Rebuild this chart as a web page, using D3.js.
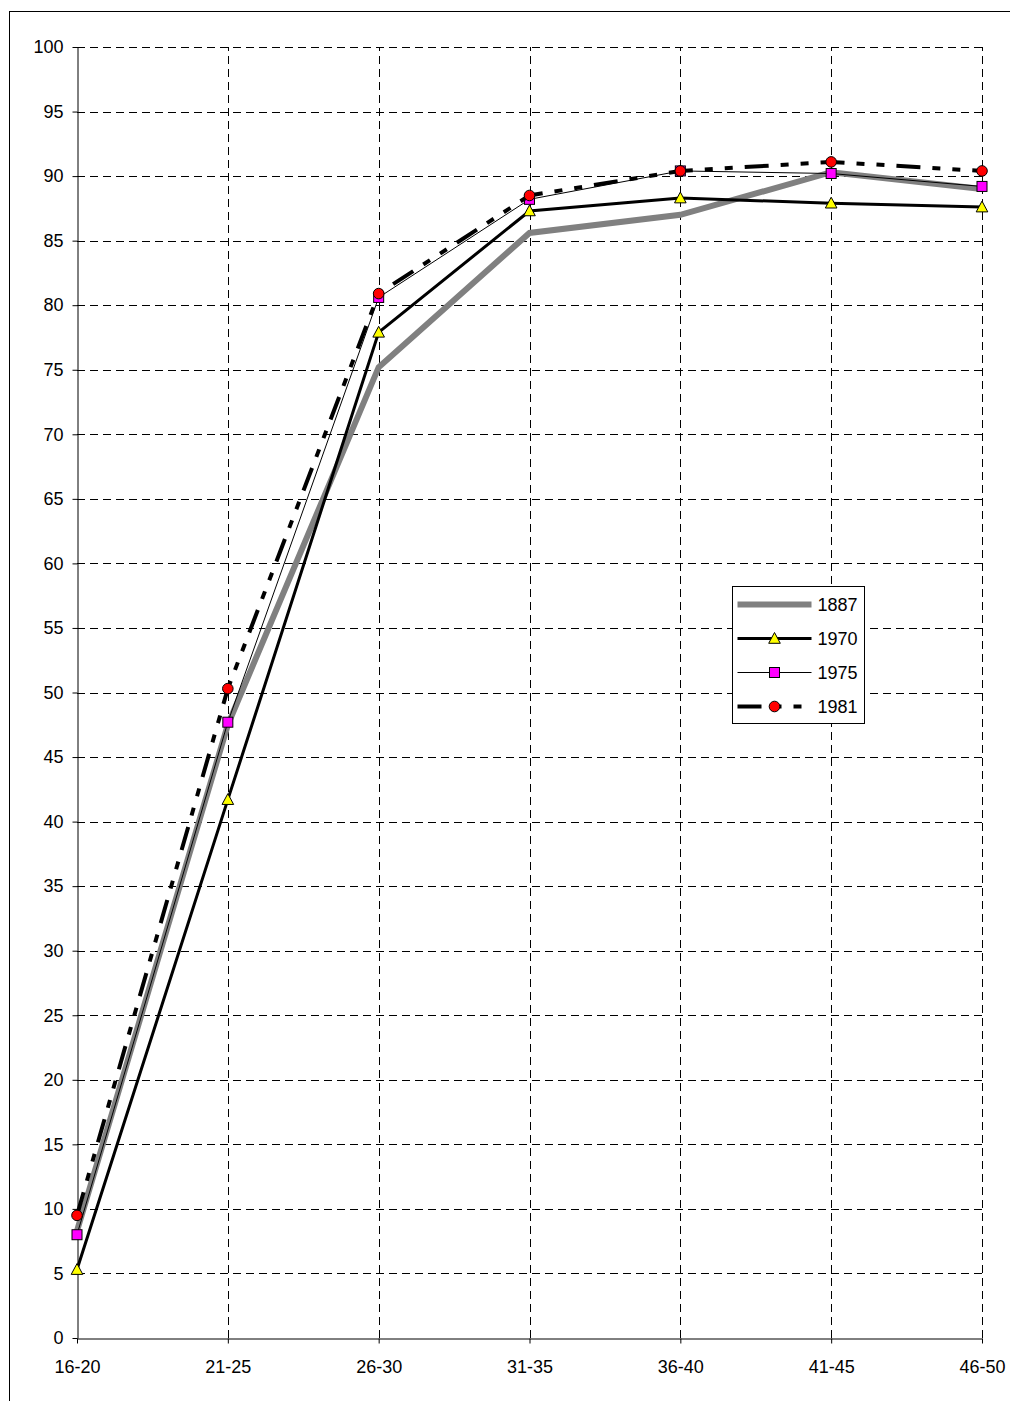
<!DOCTYPE html>
<html>
<head>
<meta charset="utf-8">
<script src="https://cdn.jsdelivr.net/npm/d3@7"></script>
<style>
  html, body { margin: 0; padding: 0; background: #fff; }
  svg { display: block; }
  text { font-family: "Liberation Sans", Arial, sans-serif; font-size: 18px; fill: #000; }
</style>
</head>
<body>
<svg id="chart" width="1010" height="1401"></svg>
<script>
// Age groups along the x axis
const categories = ["16-20", "21-25", "26-30", "31-35", "36-40", "41-45", "46-50"];

// Percentages per age group, one array per survey year
const values1887 = [8.3, 47.5, 75.2, 85.6, 87.0, 90.3, 89.0];
const values1970 = [5.3, 41.7, 77.9, 87.3, 88.3, 87.9, 87.6];
const values1975 = [8.0, 47.7, 80.6, 88.2, 90.4, 90.2, 89.2];
const values1981 = [9.5, 50.3, 80.9, 88.5, 90.4, 91.1, 90.4];

const seriesNames = ["1887", "1970", "1975", "1981"];
const yTicks = d3.range(0, 101, 5);

const series = [
  { name: seriesNames[0], values: values1887, stroke: "#808080", width: 6, dash: null, marker: null },
  { name: seriesNames[1], values: values1970, stroke: "#000", width: 3, dash: null, marker: "triangle", fill: "#ffff00" },
  { name: seriesNames[2], values: values1975, stroke: "#000", width: 1, dash: null, marker: "square", fill: "#ff00ff" },
  { name: seriesNames[3], values: values1981, stroke: "#000", width: 4, dash: "24,12,8,12,8,12", marker: "circle", fill: "#ff0000" }
];

const svg = d3.select("#chart");

// Outer chart frame (extends past the right and bottom edges)
svg.append("rect")
  .attr("x", 9.5).attr("y", 11.5)
  .attr("width", 1200).attr("height", 1600)
  .attr("fill", "none").attr("stroke", "#000").attr("stroke-width", 1);

const x = d3.scalePoint().domain(categories).range([77, 982]);
const y = d3.scaleLinear().domain([0, 100]).range([1338, 47]);

// Dashed gridlines
const grid = svg.append("g").attr("stroke", "#000").attr("stroke-width", 1).attr("stroke-dasharray", "8,5");
grid.selectAll("line.h").data(yTicks.filter(d => d > 0)).join("line")
  .attr("class", "h")
  .attr("x1", x.range()[0]).attr("x2", x.range()[1])
  .attr("y1", d => Math.round(y(d)) + 0.5).attr("y2", d => Math.round(y(d)) + 0.5);
grid.selectAll("line.v").data(categories.slice(1)).join("line")
  .attr("class", "v")
  .attr("x1", d => Math.round(x(d)) + 0.5).attr("x2", d => Math.round(x(d)) + 0.5)
  .attr("y1", y(0)).attr("y2", y(100));

// Axes
const yAxis = svg.append("g")
  .attr("transform", `translate(${Math.round(x.range()[0]) + 0.5},0)`)
  .call(d3.axisLeft(y).tickValues(yTicks).tickSize(5).tickPadding(9).tickSizeOuter(0));
const xAxis = svg.append("g")
  .attr("transform", `translate(0,${Math.round(y(0)) + 0.5})`)
  .call(d3.axisBottom(x).tickSize(5).tickPadding(17).tickSizeOuter(0));
[yAxis, xAxis].forEach(a => {
  a.attr("font-family", null).attr("font-size", null);
  a.select(".domain").attr("stroke", "#000");
  a.selectAll(".tick line").attr("stroke", "#000");
  a.selectAll(".tick text").attr("fill", "#000");
});
xAxis.selectAll(".tick").filter(d => d === categories[categories.length - 1]).select("line").attr("y1", 0);

// Marker shapes
function drawMarker(g, type, fill) {
  if (type === "triangle") {
    g.append("path").attr("d", "M0,-6L5.8,4.8L-5.8,4.8Z")
      .attr("fill", fill).attr("stroke", "#000").attr("stroke-width", 1);
  } else if (type === "square") {
    g.append("rect").attr("x", -5).attr("y", -5).attr("width", 10).attr("height", 10)
      .attr("fill", fill).attr("stroke", "#000").attr("stroke-width", 1);
  } else if (type === "circle") {
    g.append("circle").attr("r", 5.3)
      .attr("fill", fill).attr("stroke", "#000").attr("stroke-width", 1);
  }
}

const line = d3.line().x((d, i) => x(categories[i])).y(d => y(d));

series.forEach(s => {
  const g = svg.append("g");
  g.append("path")
    .attr("d", line(s.values))
    .attr("fill", "none")
    .attr("stroke", s.stroke)
    .attr("stroke-width", s.width)
    .attr("stroke-linejoin", "miter")
    .attr("stroke-dasharray", s.dash);
  if (s.marker) {
    s.values.forEach((v, i) => {
      const m = g.append("g").attr("transform", `translate(${x(categories[i])},${y(v)})`);
      drawMarker(m, s.marker, s.fill);
    });
  }
});

// Legend
const legend = svg.append("g").attr("transform", "translate(732.5,586.5)");
legend.append("rect").attr("width", 132).attr("height", 137)
  .attr("fill", "#fff").attr("stroke", "#000").attr("stroke-width", 1);
series.forEach((s, i) => {
  const cy = 18 + i * 34;
  const item = legend.append("g").attr("transform", `translate(0,${cy})`);
  item.append("line")
    .attr("x1", 5).attr("x2", 79).attr("y1", 0).attr("y2", 0)
    .attr("stroke", s.stroke).attr("stroke-width", s.width)
    .attr("stroke-dasharray", s.dash);
  if (s.marker) {
    const m = item.append("g").attr("transform", "translate(42,0)");
    drawMarker(m, s.marker, s.fill);
  }
  item.append("text").attr("x", 85).attr("y", 0).attr("dy", "0.35em").text(s.name);
});
</script>
</body>
</html>
